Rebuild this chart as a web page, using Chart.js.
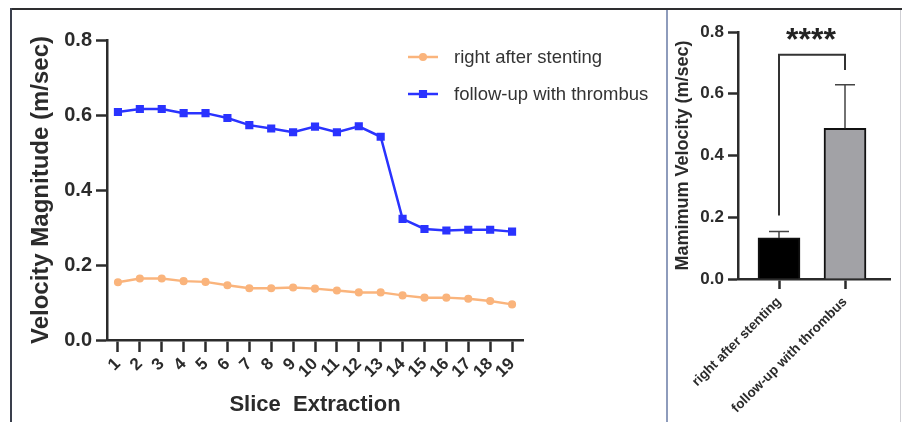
<!DOCTYPE html>
<html>
<head>
<meta charset="utf-8">
<script src="https://cdn.jsdelivr.net/npm/chart.js@4/dist/chart.umd.min.js"></script>
<style>
  html, body { margin: 0; padding: 0; background: #fff; width: 902px; height: 422px; overflow: hidden; }
  body { position: relative; }
  #profile { position: absolute; left: 0; top: 0; }
  #peak { position: absolute; left: 668px; top: 0; }
  .rule { position: absolute; z-index: 2; }
</style>
</head>
<body>
<canvas id="profile" width="667" height="422"></canvas>
<canvas id="peak" width="234" height="422"></canvas>
<div class="rule" style="left:10px;top:8px;width:892px;height:2px;background:#2e2e30;"></div>
<div class="rule" style="left:10px;top:8px;width:2px;height:414px;background:#3a3f4c;"></div>
<div class="rule" style="left:666px;top:10px;width:2px;height:412px;background:#8e9cbc;"></div>
<div class="rule" style="left:900px;top:10px;width:1px;height:412px;background:#cfcfd4;"></div>
<script>
// ---- velocity profile along the vessel ----
const sliceLabels = ['1','2','3','4','5','6','7','8','9','10','11','12','13','14','15','16','17','18','19'];
const afterStenting = [0.154, 0.164, 0.164, 0.157, 0.155, 0.146, 0.138, 0.138, 0.140, 0.137,
                       0.132, 0.127, 0.127, 0.119, 0.113, 0.113, 0.110, 0.104, 0.095];
const withThrombus  = [0.608, 0.616, 0.616, 0.605, 0.605, 0.592, 0.573, 0.564, 0.554, 0.569,
                       0.554, 0.570, 0.542, 0.323, 0.296, 0.292, 0.294, 0.294, 0.289];
const velocityTicks = [0, 0.2, 0.4, 0.6, 0.8];

// ---- maximum velocity per group ----
const groupLabels = ['right after stenting', 'follow-up with thrombus'];
const maxVelocityMean = [0.133, 0.488];
const maxVelocitySD = [0.021, 0.141];
const maxVelocityTicks = [0, 0.2, 0.4, 0.6, 0.8];
// significance bracket: left foot, top, right foot (m/sec) and label
const bracketLevels = [0.206, 0.726, 0.677];
const bracketText = '****';

const FONT = '"Liberation Sans", Arial, Helvetica, sans-serif';
const INK = '#2b2b2b';
Chart.defaults.font.family = FONT;
Chart.defaults.color = INK;

const fixTicks = (values) => (scale) => { scale.ticks = values.map(v => ({ value: v })); };

// legend drawn at a fixed spot inside the plot area
const profileLegend = {
  id: 'profileLegend',
  afterDraw(chart) {
    const ctx = chart.ctx;
    chart.data.datasets.forEach((ds, i) => {
      const y = 57 + i * 37;
      ctx.save();
      ctx.strokeStyle = ds.borderColor;
      ctx.lineWidth = ds.borderWidth;
      ctx.beginPath();
      ctx.moveTo(408, y);
      ctx.lineTo(438, y);
      ctx.stroke();
      ctx.fillStyle = ds.pointBackgroundColor;
      ctx.strokeStyle = ds.pointBorderColor;
      Chart.helpers.drawPoint(ctx, { pointStyle: ds.pointStyle, radius: ds.pointRadius, borderWidth: 1, rotation: 0 }, 423, y);
      ctx.fillStyle = '#333';
      ctx.font = '18.5px ' + FONT;
      ctx.textBaseline = 'middle';
      ctx.textAlign = 'left';
      ctx.fillText(ds.label, 454, y + 1);
      ctx.restore();
    });
  }
};

new Chart(document.getElementById('profile'), {
  type: 'line',
  data: {
    labels: sliceLabels,
    datasets: [
      {
        label: 'right after stenting',
        data: afterStenting,
        borderColor: '#fab47c',
        backgroundColor: '#fab47c',
        pointBackgroundColor: '#fab47c',
        pointBorderColor: '#fab47c',
        borderWidth: 2.5,
        pointStyle: 'circle',
        pointRadius: 2.8,
        tension: 0
      },
      {
        label: 'follow-up with thrombus',
        data: withThrombus,
        borderColor: '#2a33ff',
        backgroundColor: '#2a33ff',
        pointBackgroundColor: '#2a33ff',
        pointBorderColor: '#2a33ff',
        borderWidth: 2.5,
        pointStyle: 'rect',
        pointRadius: 4,
        tension: 0
      }
    ]
  },
  options: {
    responsive: false,
    animation: false,
    layout: { padding: { left: 0, top: 40, right: 144, bottom: 0 } },
    plugins: { legend: { display: false }, tooltip: { enabled: false } },
    scales: {
      x: {
        type: 'category',
        offset: true,
        grid: { drawOnChartArea: false, drawTicks: true, tickLength: 12, tickWidth: 2.5, tickColor: INK, offset: false },
        border: { display: true, width: 2.5, color: INK },
        ticks: { font: { size: 17, weight: 'bold' }, minRotation: 45, maxRotation: 45, autoSkip: false, padding: 2, color: INK },
        title: { display: true, text: 'Slice  Extraction', font: { size: 22, weight: 'bold', lineHeight: 1.2 }, padding: { top: 0, bottom: 4 }, color: INK },
        afterFit(scale) { scale.height = 82; }
      },
      y: {
        min: 0, max: 0.8,
        afterBuildTicks: fixTicks(velocityTicks),
        grid: { drawOnChartArea: false, drawTicks: true, tickLength: 11, tickWidth: 2.5, tickColor: INK },
        border: { display: true, width: 2.5, color: INK },
        ticks: { font: { size: 20, weight: 'bold' }, padding: 4, color: INK, callback: v => v.toFixed(1) },
        title: { display: true, text: 'Velocity Magnitude (m/sec)', font: { size: 24, weight: 'bold', lineHeight: 1.2 }, padding: { top: 27, bottom: 0 }, color: INK },
        afterFit(scale) { scale.width = 107; }
      }
    }
  },
  plugins: [profileLegend]
});

// error bars (upper arm) and significance bracket
const barExtras = {
  id: 'barExtras',
  afterDatasetsDraw(chart) {
    const ctx = chart.ctx;
    const xs = chart.scales.x, ys = chart.scales.y;
    ctx.save();
    ctx.strokeStyle = '#444';
    ctx.lineWidth = 1.5;
    maxVelocityMean.forEach((m, i) => {
      const x = xs.getPixelForValue(i);
      const y0 = ys.getPixelForValue(m);
      const y1 = ys.getPixelForValue(m + maxVelocitySD[i]);
      ctx.beginPath();
      ctx.moveTo(x, y0); ctx.lineTo(x, y1);
      ctx.moveTo(x - 10, y1); ctx.lineTo(x + 10, y1);
      ctx.stroke();
    });
    const xa = xs.getPixelForValue(0), xb = xs.getPixelForValue(1);
    const [footA, top, footB] = bracketLevels.map(v => ys.getPixelForValue(v));
    ctx.strokeStyle = '#333';
    ctx.lineWidth = 2;
    ctx.beginPath();
    ctx.moveTo(xa, footA); ctx.lineTo(xa, top); ctx.lineTo(xb, top); ctx.lineTo(xb, footB);
    ctx.stroke();
    ctx.fillStyle = '#222';
    ctx.font = 'bold 32px ' + FONT;
    ctx.textAlign = 'center';
    ctx.textBaseline = 'alphabetic';
    ctx.fillText(bracketText, (xa + xb) / 2 - 1, top - 5);
    ctx.restore();
  }
};

new Chart(document.getElementById('peak'), {
  type: 'bar',
  data: {
    datasets: [{
      data: maxVelocityMean.map((v, i) => ({ x: i, y: v })),
      backgroundColor: ['#000000', '#a2a2a6'],
      borderColor: '#111',
      borderWidth: 2,
      barThickness: 42
    }]
  },
  options: {
    responsive: false,
    animation: false,
    layout: { padding: { left: 0, top: 32, right: 12, bottom: 0 } },
    plugins: { legend: { display: false }, tooltip: { enabled: false } },
    scales: {
      x: {
        type: 'linear',
        offset: false,
        bounds: 'data',
        min: -41 / 66, max: 1 + 45 / 66,
        afterBuildTicks: fixTicks([0, 1]),
        grid: { drawOnChartArea: false, drawTicks: true, tickLength: 10, tickWidth: 2.5, tickColor: INK, offset: false },
        border: { display: true, width: 2.5, color: INK },
        ticks: { font: { size: 13.5, weight: 'bold' }, minRotation: 45, maxRotation: 45, autoSkip: false, padding: 5, color: INK,
                 callback: v => groupLabels[v] },
        afterFit(scale) { scale.height = 143; }
      },
      y: {
        min: 0, max: 0.8,
        afterBuildTicks: fixTicks(maxVelocityTicks),
        grid: { drawOnChartArea: false, drawTicks: true, tickLength: 10, tickWidth: 2.5, tickColor: INK },
        border: { display: true, width: 2.5, color: INK },
        ticks: { font: { size: 17, weight: 'bold' }, padding: 4, color: INK, callback: v => v.toFixed(1) },
        title: { display: true, text: 'Mamimum Velocity (m/sec)', font: { size: 18, weight: 'bold', lineHeight: 1.2 }, padding: { top: 4, bottom: 0 }, color: INK },
        afterFit(scale) { scale.width = 70; }
      }
    }
  },
  plugins: [barExtras]
});
</script>
</body>
</html>
